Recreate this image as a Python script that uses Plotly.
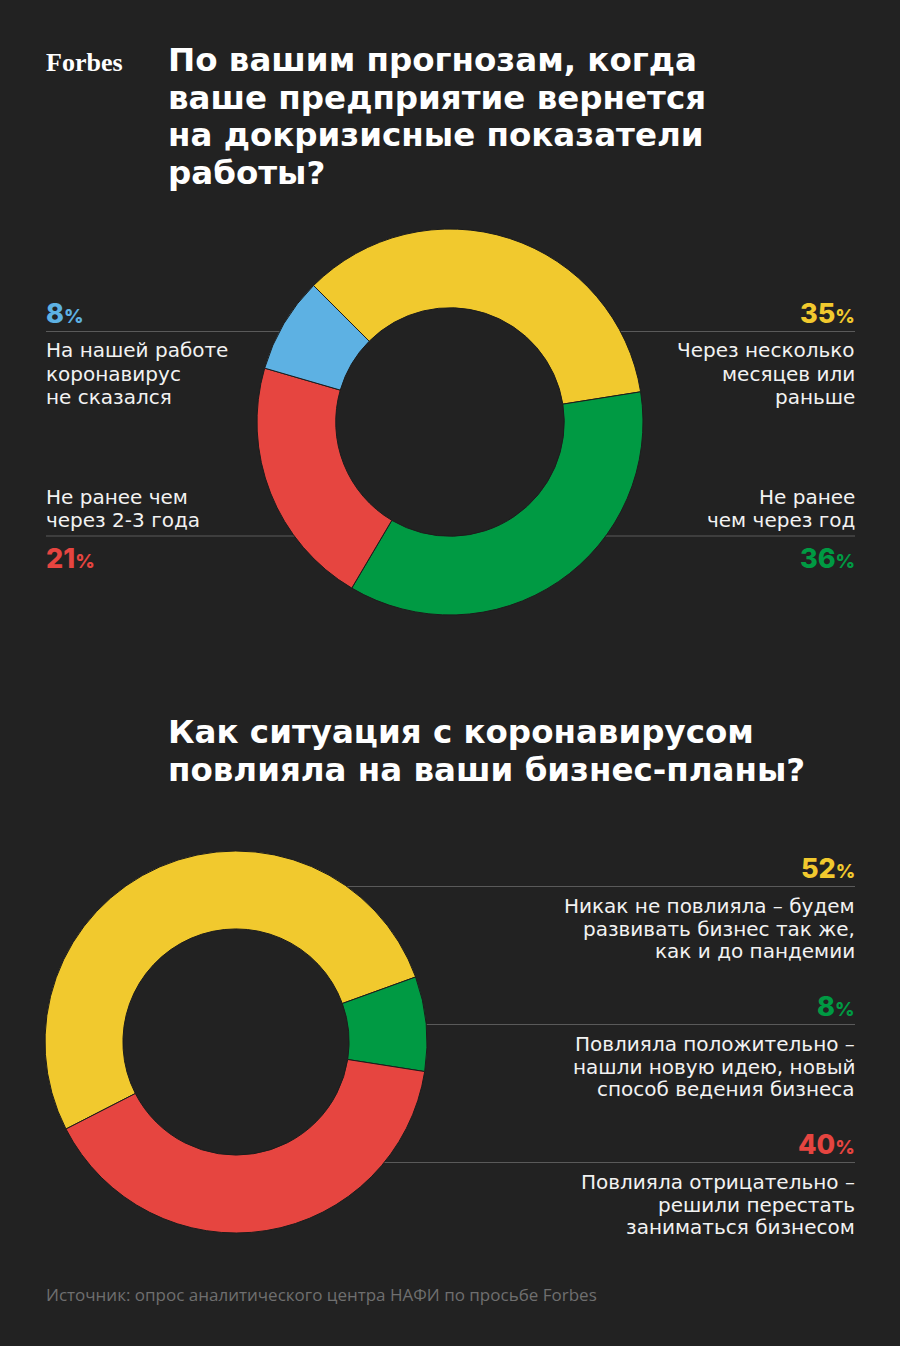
import plotly.graph_objects as go

W, H = 900, 1346
BG = "#222222"

# ---------- data ----------
title1 = ["По вашим прогнозам, когда", "ваше предприятие вернется",
          "на докризисные показатели", "работы?"]
title2 = ["Как ситуация с коронавирусом", "повлияла на ваши бизнес-планы?"]

q1_labels = ["Через несколько месяцев или раньше", "Не ранее чем через год",
             "Не ранее чем через 2-3 года", "На нашей работе коронавирус не сказался"]
q1_values = [35, 36, 21, 8]
q1_colors = ["#F1C92E", "#009A43", "#E64540", "#5DB1E3"]

q2_labels = ["Никак не повлияла – будем развивать бизнес так же, как и до пандемии",
             "Повлияла положительно – нашли новую идею, новый способ ведения бизнеса",
             "Повлияла отрицательно – решили перестать заниматься бизнесом"]
q2_values = [52, 8, 40]
q2_colors = ["#F1C92E", "#009A43", "#E64540"]

# label text broken into lines as in the reference
q1_text_lines = [["Через несколько", "месяцев или", "раньше"],
                 ["Не ранее", "чем через год"],
                 ["Не ранее чем", "через 2-3 года"],
                 ["На нашей работе", "коронавирус", "не сказался"]]
q2_text_lines = [["Никак не повлияла – будем", "развивать бизнес так же,", "как и до пандемии"],
                 ["Повлияла положительно –", "нашли новую идею, новый", "способ ведения бизнеса"],
                 ["Повлияла отрицательно –", "решили перестать", "заниматься бизнесом"]]

source = "Источник: опрос аналитического центра НАФИ по просьбе Forbes"

# ---------- layout helpers ----------
def px(x):
    return x / W

def py(y):
    return 1 - y / H

TITLE_FONT = "DejaVu Sans"
TEXT_FONT = "DejaVu Sans"
PCT_FONT = "Inter"
FOOT_FONT = "Open Sans"

C1 = (450, 422, 193)   # donut 1 centre x, y, radius (px)
C2 = (236, 1042, 191)  # donut 2 centre x, y, radius (px)
HOLE = 0.592

fig = go.Figure()

def add_pie(values, colors, labels, c, rotation):
    cx, cy, r = c
    fig.add_trace(go.Pie(
        values=values, labels=labels, sort=False, direction="clockwise",
        rotation=rotation, hole=HOLE,
        marker=dict(colors=colors, line=dict(color="#1c1c1c", width=1)),
        textinfo="none", hoverinfo="label+percent", showlegend=False,
        domain=dict(x=[px(cx - r), px(cx + r)], y=[py(cy + r), py(cy - r)]),
    ))

add_pie(q1_values, q1_colors, q1_labels, C1, 315)
add_pie(q2_values, q2_colors, q2_labels, C2, 242.9)

ann = []
shapes = []

def text(x, y, s, size, color="#F2F2F2", anchor="left", family=TEXT_FONT, weight=400):
    ann.append(dict(x=px(x), y=py(y), xref="paper", yref="paper", text=s,
                    showarrow=False, xanchor=anchor, yanchor="middle", align=anchor,
                    font=dict(family=family, size=size, color=color, weight=weight)))

def edge_x(c, y, side):
    cx, cy, r = c
    dy = abs(y - cy)
    dx = (max(r * r - dy * dy, 0)) ** 0.5
    return cx - dx + 1 if side == "left" else cx + dx - 1

def hline(x0, x1, y):
    shapes.append(dict(type="line", xref="paper", yref="paper", layer="below",
                       x0=px(x0), x1=px(x1), y0=py(y), y1=py(y),
                       line=dict(color="#5a5a5a", width=1)))

# Forbes logo and titles
text(44, 62, "<b>Forbes</b>", 26, "#FFFFFF", family="Liberation Serif")
TPITCH = 37.7
TSIZE = 32.5
for i, s in enumerate(title1):
    text(166, 60 + i * TPITCH, s, TSIZE, "#FFFFFF", family=TITLE_FONT, weight=700)
for i, s in enumerate(title2):
    text(166, 732.5 + i * TPITCH, s, TSIZE, "#FFFFFF", family=TITLE_FONT, weight=700)

TXT = 20
LH = 23

def lines(x, y0, ls, anchor, pitch=LH):
    for i, s in enumerate(ls):
        text(x, y0 + i * pitch, s, TXT, anchor=anchor)

def pct(v):
    return f"{v}<span style='font-size:19px'>%</span>"

def pct_text(x, y, v, color, anchor):
    text(x, y, pct(v), 27, color, anchor, family=PCT_FONT, weight=800)

L = 44
R = 857
LINE_L = 46
LINE_R = 855

# top-right: yellow
pct_text(R, 313, q1_values[0], q1_colors[0], "right")
hline(edge_x(C1, 331.5, "right"), LINE_R, 331.5)
lines(R, 350.5, q1_text_lines[0], "right")
# bottom-right: green
lines(R, 497, q1_text_lines[1], "right")
hline(edge_x(C1, 536, "right"), LINE_R, 536)
pct_text(R, 558, q1_values[1], q1_colors[1], "right")
# bottom-left: red
lines(L, 497, q1_text_lines[2], "left")
hline(LINE_L, edge_x(C1, 536, "left"), 536)
pct_text(L, 558, q1_values[2], q1_colors[2], "left")
# top-left: blue
pct_text(L, 313, q1_values[3], q1_colors[3], "left")
hline(LINE_L, edge_x(C1, 331.5, "left"), 331.5)
lines(L, 350.5, q1_text_lines[3], "left")

# donut 2 labels
tops = [868, 1006, 1144]
for k in range(3):
    t = tops[k]
    pct_text(R, t, q2_values[k], q2_colors[k], "right")
    hline(edge_x(C2, t + 18.5, "right"), LINE_R, t + 18.5)
    lines(R, t + 38, q2_text_lines[k], "right", 22.5)

text(L, 1294, source, 17, "#6f6f6f", family=FOOT_FONT)

fig.update_layout(width=W, height=H, margin=dict(l=0, r=0, t=0, b=0),
                  paper_bgcolor=BG, plot_bgcolor=BG,
                  annotations=ann, shapes=shapes, showlegend=False)

fig.write_html("out.html")
